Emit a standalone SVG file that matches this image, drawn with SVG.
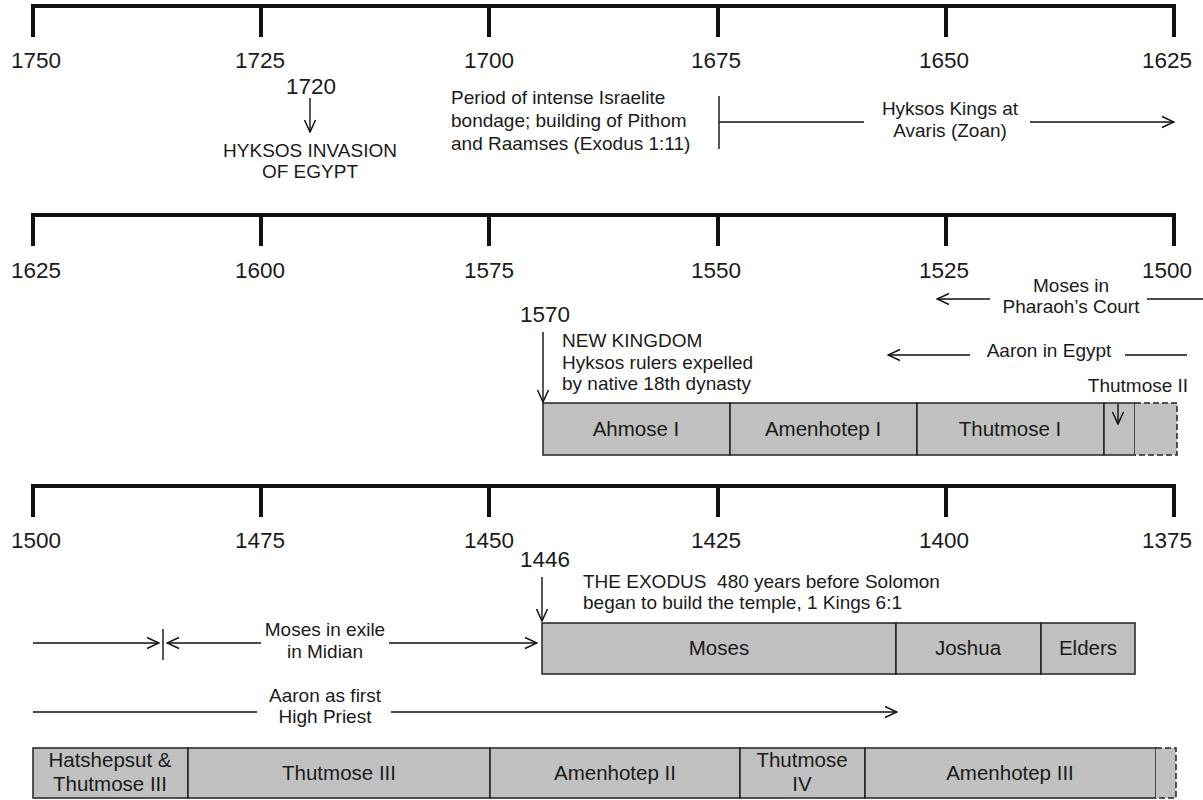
<svg xmlns="http://www.w3.org/2000/svg" width="1203" height="800" viewBox="0 0 1203 800">
<style>
  text { font-family: "Liberation Sans", Arial, Helvetica, sans-serif; fill: #1a1a1a; }
  .yr { font-size: 22.5px; text-anchor: middle; }
  .note { font-size: 19px; }
  .mid { text-anchor: middle; }
  .lbl { font-size: 20.5px; text-anchor: middle; }
  .axis { fill: none; stroke: #111; stroke-width: 4; stroke-linejoin: miter; }
  .ln { fill: none; stroke: #111; stroke-width: 1.4; }
  .box { fill: #c0c0c0; stroke: #222; stroke-width: 1.5; }
  .dash { fill: none; stroke: #222; stroke-width: 1.5; stroke-dasharray: 6 3; }
</style>
<defs>
  <marker id="ah" viewBox="0 0 14 14" refX="13" refY="7" markerWidth="14" markerHeight="14" markerUnits="userSpaceOnUse" orient="auto-start-reverse">
    <path d="M1,1.5 L13,7 L1,12.5" fill="none" stroke="#111" stroke-width="1.5"/>
  </marker>
</defs>
<rect width="1203" height="800" fill="#ffffff"/>

<g id="axis-1750-1625">
  <path class="axis" d="M33,37 V6 H1174 V37 M261,6 V37 M489,6 V37 M718,6 V37 M946,6 V37"/>
  <text class="yr" x="36" y="68">1750</text>
  <text class="yr" x="260" y="68">1725</text>
  <text class="yr" x="489" y="68">1700</text>
  <text class="yr" x="716" y="68">1675</text>
  <text class="yr" x="944" y="68">1650</text>
  <text class="yr" x="1167" y="68">1625</text>
</g>
<g id="axis-1625-1500">
  <path class="axis" d="M33,246 V215 H1174 V246 M261,215 V246 M489,215 V246 M718,215 V246 M946,215 V246"/>
  <text class="yr" x="36" y="278">1625</text>
  <text class="yr" x="260" y="278">1600</text>
  <text class="yr" x="489" y="278">1575</text>
  <text class="yr" x="716" y="278">1550</text>
  <text class="yr" x="944" y="278">1525</text>
  <text class="yr" x="1167" y="278">1500</text>
</g>
<g id="axis-1500-1375">
  <path class="axis" d="M33,517 V486 H1174 V517 M261,486 V517 M489,486 V517 M718,486 V517 M946,486 V517"/>
  <text class="yr" x="36" y="548">1500</text>
  <text class="yr" x="260" y="548">1475</text>
  <text class="yr" x="489" y="548">1450</text>
  <text class="yr" x="716" y="548">1425</text>
  <text class="yr" x="944" y="548">1400</text>
  <text class="yr" x="1167" y="548">1375</text>
</g>

<g id="hyksos-invasion">
  <text class="yr" x="311" y="94">1720</text>
  <text class="note mid" x="310" y="157">HYKSOS INVASION</text>
  <text class="note mid" x="310" y="178">OF EGYPT</text>
</g>
<g id="bondage">
  <text class="note" x="451" y="104">Period of intense Israelite</text>
  <text class="note" x="451" y="127">bondage; building of Pithom</text>
  <text class="note" x="451" y="150">and Raamses (Exodus 1:11)</text>
</g>
<g id="hyksos-kings">
  <text class="note mid" x="950" y="115">Hyksos Kings at</text>
  <text class="note mid" x="950" y="137">Avaris (Zoan)</text>
</g>
<g id="moses-court">
  <text class="note mid" x="1071" y="292">Moses in</text>
  <text class="note mid" x="1071" y="313">Pharaoh’s Court</text>
</g>
<g id="aaron-egypt">
  <text class="note mid" x="1049" y="357">Aaron in Egypt</text>
</g>
<g id="new-kingdom">
  <text class="yr" x="545" y="322">1570</text>
  <text class="note" x="562" y="347">NEW KINGDOM</text>
  <text class="note" x="562" y="369">Hyksos rulers expelled</text>
  <text class="note" x="562" y="390">by native 18th dynasty</text>
</g>
<g id="thutmose-ii-label">
  <text class="note mid" x="1138" y="392">Thutmose II</text>
</g>

<g id="row2-pharaohs">
  <rect class="box" x="543" y="403" width="187" height="52"/>
  <text class="lbl" x="636" y="436">Ahmose I</text>
  <rect class="box" x="730" y="403" width="187" height="52"/>
  <text class="lbl" x="823" y="436">Amenhotep I</text>
  <rect class="box" x="917" y="403" width="187" height="52"/>
  <text class="lbl" x="1010" y="436">Thutmose I</text>
  <rect class="box" x="1104" y="403" width="31" height="52"/>
  <rect x="1135" y="403" width="42" height="52" fill="#c0c0c0"/>
  <path class="dash" d="M1135,403 H1177 V455 H1135"/>
</g>

<g id="exodus">
  <text class="yr" x="545" y="567">1446</text>
  <text class="note" x="583" y="588" xml:space="preserve">THE EXODUS  480 years before Solomon</text>
  <text class="note" x="583" y="609">began to build the temple, 1 Kings 6:1</text>
</g>
<g id="row3-leaders">
  <rect class="box" x="542" y="623" width="354" height="51"/>
  <text class="lbl" x="719" y="655">Moses</text>
  <rect class="box" x="896" y="623" width="145" height="51"/>
  <text class="lbl" x="968" y="655">Joshua</text>
  <rect class="box" x="1041" y="623" width="94" height="51"/>
  <text class="lbl" x="1088" y="655">Elders</text>
</g>
<g id="moses-exile">
  <text class="note mid" x="325" y="636">Moses in exile</text>
  <text class="note mid" x="325" y="658">in Midian</text>
</g>
<g id="aaron-priest">
  <text class="note mid" x="325" y="702">Aaron as first</text>
  <text class="note mid" x="325" y="723">High Priest</text>
</g>

<g id="row4-pharaohs">
  <rect class="box" x="33" y="748" width="155" height="50"/>
  <text class="lbl" x="110" y="767">Hatshepsut &amp;</text>
  <text class="lbl" x="110" y="791">Thutmose III</text>
  <rect class="box" x="188" y="748" width="302" height="50"/>
  <text class="lbl" x="339" y="780">Thutmose III</text>
  <rect class="box" x="490" y="748" width="250" height="50"/>
  <text class="lbl" x="615" y="780">Amenhotep II</text>
  <rect class="box" x="740" y="748" width="125" height="50"/>
  <text class="lbl" x="802" y="767">Thutmose</text>
  <text class="lbl" x="802" y="791">IV</text>
  <rect class="box" x="865" y="748" width="291" height="50"/>
  <text class="lbl" x="1010" y="780">Amenhotep III</text>
  <rect x="1156" y="748" width="20" height="50" fill="#c0c0c0"/>
  <path class="dash" d="M1156,748 H1176 V798 H1156"/>
</g>

<g id="connectors">
  <path class="ln" d="M310,98 V132" marker-end="url(#ah)"/>
  <path class="ln" d="M719,96 V149 M719,122 H864"/>
  <path class="ln" d="M1030,122 H1174" marker-end="url(#ah)"/>
  <path class="ln" d="M990,299 H937" marker-end="url(#ah)"/>
  <path class="ln" d="M1147,299 H1203"/>
  <path class="ln" d="M970,355 H888" marker-end="url(#ah)"/>
  <path class="ln" d="M1125,355 H1187"/>
  <path class="ln" d="M543,332 V402" marker-end="url(#ah)"/>
  <path class="ln" d="M1118,404 V424" marker-end="url(#ah)"/>
  <path class="ln" d="M542,577 V621" marker-end="url(#ah)"/>
  <path class="ln" d="M33,643 H159" marker-end="url(#ah)"/>
  <path class="ln" d="M163,629 V660"/>
  <path class="ln" d="M261,643 H167" marker-end="url(#ah)"/>
  <path class="ln" d="M389,643 H537" marker-end="url(#ah)"/>
  <path class="ln" d="M33,712 H257 M391,712 H897" marker-end="url(#ah)"/>
</g>
</svg>
